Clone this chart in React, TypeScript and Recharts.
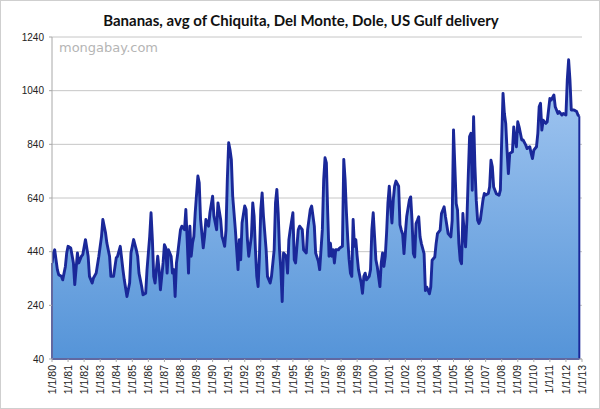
import React from 'react';
import { AreaChart, Area, XAxis, YAxis, CartesianGrid, ReferenceLine } from 'recharts';

// Months since January 1980
const monthIndex = [
  0, 1, 2, 4, 5, 7, 8, 10, 11, 12, 14, 16, 17, 19, 20, 22, 23, 25, 27, 28, 30, 31, 33, 35, 37, 38, 40, 41, 43, 44,
  46, 48, 49, 51, 53, 54, 56, 58, 59, 61, 63, 64, 65, 67, 68, 70, 71, 73, 74, 75, 76, 77, 79, 80, 81, 83, 84, 85, 86, 87,
  89, 90, 91, 92, 93, 94, 96, 97, 99, 100, 101, 102, 103, 104, 105, 106, 107, 109, 110, 111, 113, 114, 115, 117, 118, 120, 121, 123, 124, 126,
  127, 128, 129, 130, 131, 132, 133, 134, 135, 137, 138, 139, 140, 141, 142, 144, 145, 146, 147, 149, 150, 151, 152, 153, 154, 155, 156, 157, 158, 160,
  161, 163, 164, 166, 167, 168, 169, 170, 171, 172, 173, 175, 176, 177, 178, 180, 181, 182, 184, 185, 187, 188, 190, 191, 193, 194, 196, 197, 199, 200,
  202, 203, 204, 205, 206, 207, 208, 209, 210, 211, 212, 214, 215, 217, 218, 219, 220, 221, 222, 223, 224, 225, 226, 227, 228, 229, 231, 232, 233, 234,
  235, 237, 238, 239, 240, 241, 242, 243, 245, 246, 247, 248, 249, 250, 251, 252, 253, 254, 255, 256, 257, 259, 260, 261, 262, 263, 264, 265, 267, 268,
  269, 270, 271, 272, 273, 274, 275, 276, 278, 279, 280, 282, 283, 284, 286, 287, 288, 290, 291, 293, 294, 296, 298, 299, 300, 301, 302, 303, 304, 305,
  306, 307, 308, 309, 310, 311, 312, 313, 314, 315, 316, 317, 318, 319, 320, 322, 323, 324, 326, 327, 328, 329, 330, 332, 334, 335, 336, 337, 338, 339,
  340, 341, 342, 344, 345, 346, 347, 348, 349, 351, 352, 354, 355, 357, 358, 359, 360, 362, 363, 364, 365, 366, 367, 369, 370, 372, 373, 375, 376, 378,
  379, 381, 382, 384, 385, 386, 387, 388, 389, 390, 392, 393, 394,
];

// Average banana price (US Gulf delivery)
const price = [
  398, 435, 447, 373, 354, 348, 335, 385, 435, 460, 454, 398, 317, 435, 398, 423, 429, 485, 423, 348, 323, 342, 360, 423, 497, 560, 510, 472, 423, 348,
  348, 417, 423, 460, 373, 335, 273, 323, 435, 485, 447, 423, 360, 310, 279, 285, 373, 497, 585, 485, 348, 323, 423, 373, 298, 398, 466, 454, 360, 447,
  423, 360, 373, 273, 398, 435, 522, 535, 522, 597, 485, 360, 535, 423, 472, 497, 585, 722, 697, 560, 454, 497, 560, 535, 585, 647, 572, 522, 622, 560,
  497, 480, 460, 520, 709, 846, 820, 784, 647, 522, 447, 373, 485, 410, 547, 610, 597, 485, 423, 497, 622, 572, 447, 348, 310, 423, 597, 659, 572, 447,
  348, 323, 348, 447, 622, 672, 585, 447, 373, 254, 435, 423, 360, 485, 522, 585, 410, 398, 522, 535, 522, 447, 435, 522, 597, 610, 535, 435, 404, 373,
  522, 709, 790, 771, 585, 423, 472, 423, 447, 398, 447, 447, 454, 460, 784, 709, 585, 485, 410, 360, 348, 560, 460, 485, 423, 373, 323, 285, 348, 360,
  335, 348, 373, 522, 585, 497, 410, 385, 310, 398, 435, 385, 423, 510, 622, 684, 610, 547, 634, 684, 703, 684, 540, 520, 505, 433, 507, 570, 632, 644,
  557, 433, 420, 545, 557, 570, 495, 470, 433, 295, 308, 283, 308, 408, 420, 470, 507, 520, 582, 607, 570, 507, 495, 557, 894, 757, 619, 595, 470, 408,
  395, 582, 507, 458, 557, 719, 869, 881, 669, 943, 757, 632, 557, 545, 557, 632, 657, 651, 657, 682, 781, 756, 681, 656, 650, 669, 856, 1030, 955, 918,
  818, 731, 806, 812, 905, 856, 831, 924, 905, 856, 856, 837, 824, 831, 806, 787, 818, 831, 881, 980, 993, 893, 930, 918, 924, 1011, 1005, 1024, 980, 955,
  962, 949, 955, 949, 1080, 1155, 1080, 968, 968, 968, 962, 949, 945,
];

const yearTicks = [0, 12, 24, 36, 48, 60, 72, 84, 96, 108, 120, 132, 144, 156, 168, 180, 192, 204, 216, 228, 240, 252, 264, 276, 288, 300, 312, 324, 336, 348, 360, 372, 384, 396];
const yearLabels = [
  '1/1/80', '1/1/81', '1/1/82', '1/1/83', '1/1/84', '1/1/85', '1/1/86', '1/1/87', '1/1/88', '1/1/89', '1/1/90',
  '1/1/91', '1/1/92', '1/1/93', '1/1/94', '1/1/95', '1/1/96', '1/1/97', '1/1/98', '1/1/99', '1/1/00', '1/1/01',
  '1/1/02', '1/1/03', '1/1/04', '1/1/05', '1/1/06', '1/1/07', '1/1/08', '1/1/09', '1/1/10', '1/1/11', '1/1/12', '1/1/13',
];
const yTicks = [40, 240, 440, 640, 840, 1040, 1240];

const data = monthIndex.map((m, i) => ({ m, price: price[i] }));
const firstM = monthIndex[0];
const lastM = monthIndex[monthIndex.length - 1];

const LINE = '#1a2899';

const XTick = (props: any) => {
  const { x, y, payload } = props;
  const idx = yearTicks.indexOf(payload.value);
  const label = idx >= 0 ? yearLabels[idx] : '';
  return (
    <text
      x={x}
      y={y}
      transform={`rotate(-90, ${x}, ${y})`}
      textAnchor="end"
      dy={3.6}
      fontSize={10.5}
      fontFamily="'Liberation Sans', Arial, sans-serif"
      fill="#222"
    >
      {label}
    </text>
  );
};

export default function App() {
  return (
    <div
      style={{
        position: 'relative',
        width: 600,
        height: 409,
        boxSizing: 'border-box',
        border: '1px solid #cfcfcf',
        background: '#fff',
        overflow: 'hidden',
      }}
    >
      <style>{`body{margin:0;}`}</style>
      <div
        style={{
          position: 'absolute',
          left: 0,
          top: 9,
          width: 600,
          textAlign: 'center',
          fontFamily: "Lato, 'Open Sans', sans-serif",
          fontWeight: 700,
          fontSize: 15,
          color: '#111',
          lineHeight: '20px',
        }}
      >
        Bananas, avg of Chiquita, Del Monte, Dole, US Gulf delivery
      </div>
      <div
        style={{
          position: 'absolute',
          left: 58,
          top: 39,
          fontFamily: "'DejaVu Sans', sans-serif",
          fontSize: 13,
          color: '#b5b5b5',
          lineHeight: '16px',
        }}
      >
        mongabay.com
      </div>
      <div style={{ position: 'absolute', left: -1, top: -1 }}>
        <AreaChart width={600} height={409} data={data} margin={{ top: 37, right: 18, bottom: 5, left: 0 }}>
          <defs>
            <linearGradient id="bananaFill" x1="0" y1="0" x2="0" y2="1">
              <stop offset="0%" stopColor="#a6c9f2" />
              <stop offset="100%" stopColor="#5594d8" />
            </linearGradient>
          </defs>
          <CartesianGrid horizontal vertical={false} stroke="#c6c6c6" strokeWidth={1} />
          <XAxis
            dataKey="m"
            type="number"
            domain={[0, 396]}
            ticks={yearTicks}
            interval={0}
            height={45}
            tickSize={3}
            tickMargin={3}
            axisLine={{ stroke: '#a8a8a8' }}
            tickLine={{ stroke: '#a8a8a8' }}
            tick={<XTick />}
            allowDataOverflow
          />
          <YAxis
            type="number"
            domain={[40, 1240]}
            ticks={yTicks}
            interval={0}
            width={52}
            tickSize={3}
            tickMargin={5}
            axisLine={{ stroke: '#a8a8a8' }}
            tickLine={{ stroke: '#a8a8a8' }}
            tick={{ fontSize: 10, fill: '#222', fontFamily: "'Liberation Sans', Arial, sans-serif" }}
            allowDataOverflow
          />
          <Area
            type="linear"
            dataKey="price"
            stroke={LINE}
            strokeWidth={2.9}
            strokeLinejoin="round"
            fill="url(#bananaFill)"
            fillOpacity={1}
            dot={false}
            activeDot={false}
            isAnimationActive={false}
          />
          <ReferenceLine
            segment={[{ x: firstM, y: 40 }, { x: lastM, y: 40 }]}
            stroke={LINE}
            strokeWidth={2}
          />
          <ReferenceLine
            segment={[{ x: firstM, y: 40 }, { x: firstM, y: price[0] }]}
            stroke={LINE}
            strokeWidth={2}
          />
          <ReferenceLine
            segment={[{ x: lastM, y: 40 }, { x: lastM, y: price[price.length - 1] }]}
            stroke={LINE}
            strokeWidth={2}
          />
        </AreaChart>
      </div>
    </div>
  );
}
